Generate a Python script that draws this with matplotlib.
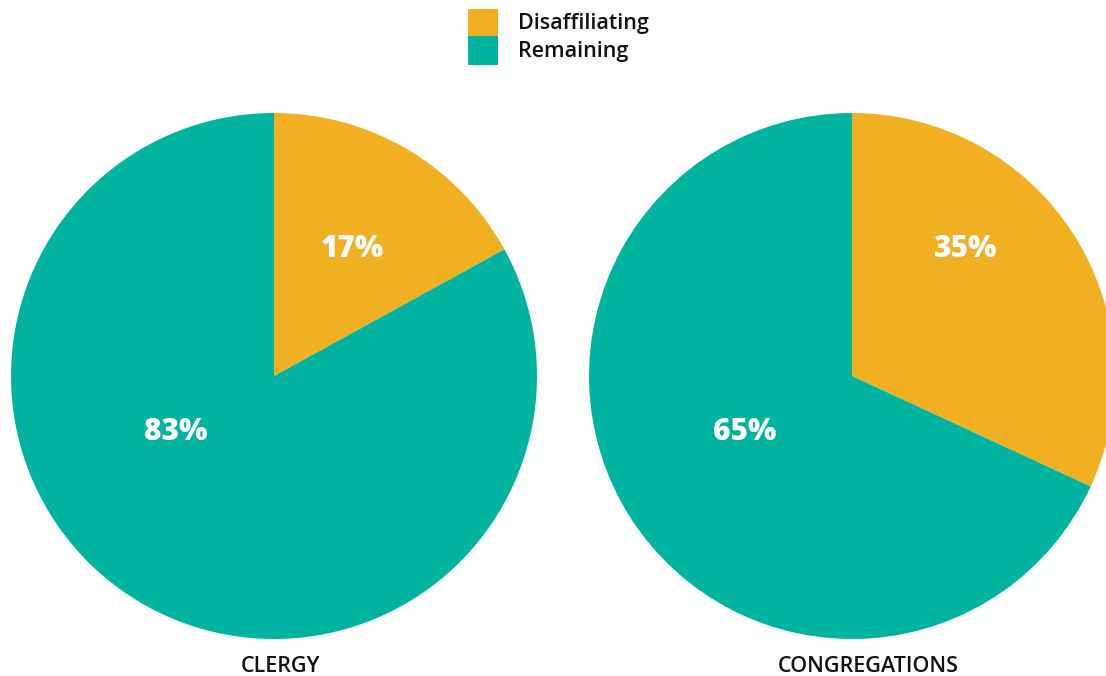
import matplotlib
matplotlib.use('Agg')
import matplotlib.pyplot as plt
from matplotlib.patches import Rectangle

plt.rcParams['font.family'] = ['Open Sans', 'DejaVu Sans']

# Data
series = ['Disaffiliating', 'Remaining']
clergy_share = [17, 83]
congregations_share = [31.9, 68.1]   # wedge sizes as drawn
clergy_labels = [17, 83]
congregations_labels = [35, 65]      # labels as printed
titles = ['CLERGY', 'CONGREGATIONS']
colors = ['#F0B022', '#00B49F']

# label positions inside each pie (axes data units, radius = 1)
label_pos = [
    [(0.300, 0.482), (-0.373, -0.214)],
    [(0.433, 0.482), (-0.407, -0.214)],
]

W, H = 1106, 676
fig = plt.figure(figsize=(W / 100, H / 100), dpi=100)

r = 263
centers = [(274, 376), (852, 376)]
title_x = [280, 868]

pies = [(clergy_share, clergy_labels), (congregations_share, congregations_labels)]
for i, ((vals, labels), (cx, cy)) in enumerate(zip(pies, centers)):
    ax = fig.add_axes([(cx - r) / W, (H - cy - r) / H, 2 * r / W, 2 * r / H])
    ax.pie(vals, colors=colors, startangle=90, counterclock=False, radius=1,
           wedgeprops=dict(linewidth=0))
    ax.set_xlim(-1, 1)
    ax.set_ylim(-1, 1)
    ax.set_aspect('auto')
    ax.axis('off')
    for v, (x, y) in zip(labels, label_pos[i]):
        ax.text(x, y, f'{v}%', ha='center', va='center', color='white',
                fontsize=21.5, fontweight='heavy')
    fig.text(title_x[i] / W, 1 - 667 / H, titles[i], ha='center', va='center',
             fontsize=15.5, fontweight='semibold', color='#111111')

# legend drawn by hand in figure pixels
box_top = [9, 36]
box_bot = [36, 65]
for c, name, t, b in zip(colors, series, box_top, box_bot):
    fig.patches.append(Rectangle((468 / W, 1 - b / H), 30 / W, (b - t) / H,
                                 transform=fig.transFigure, facecolor=c,
                                 edgecolor='none'))
    fig.text(518 / W, 1 - ((t + b) / 2 + 1) / H, name, ha='left', va='center',
             fontsize=15.5, fontweight='semibold', color='#111111')

fig.savefig('out.png', dpi=100)
